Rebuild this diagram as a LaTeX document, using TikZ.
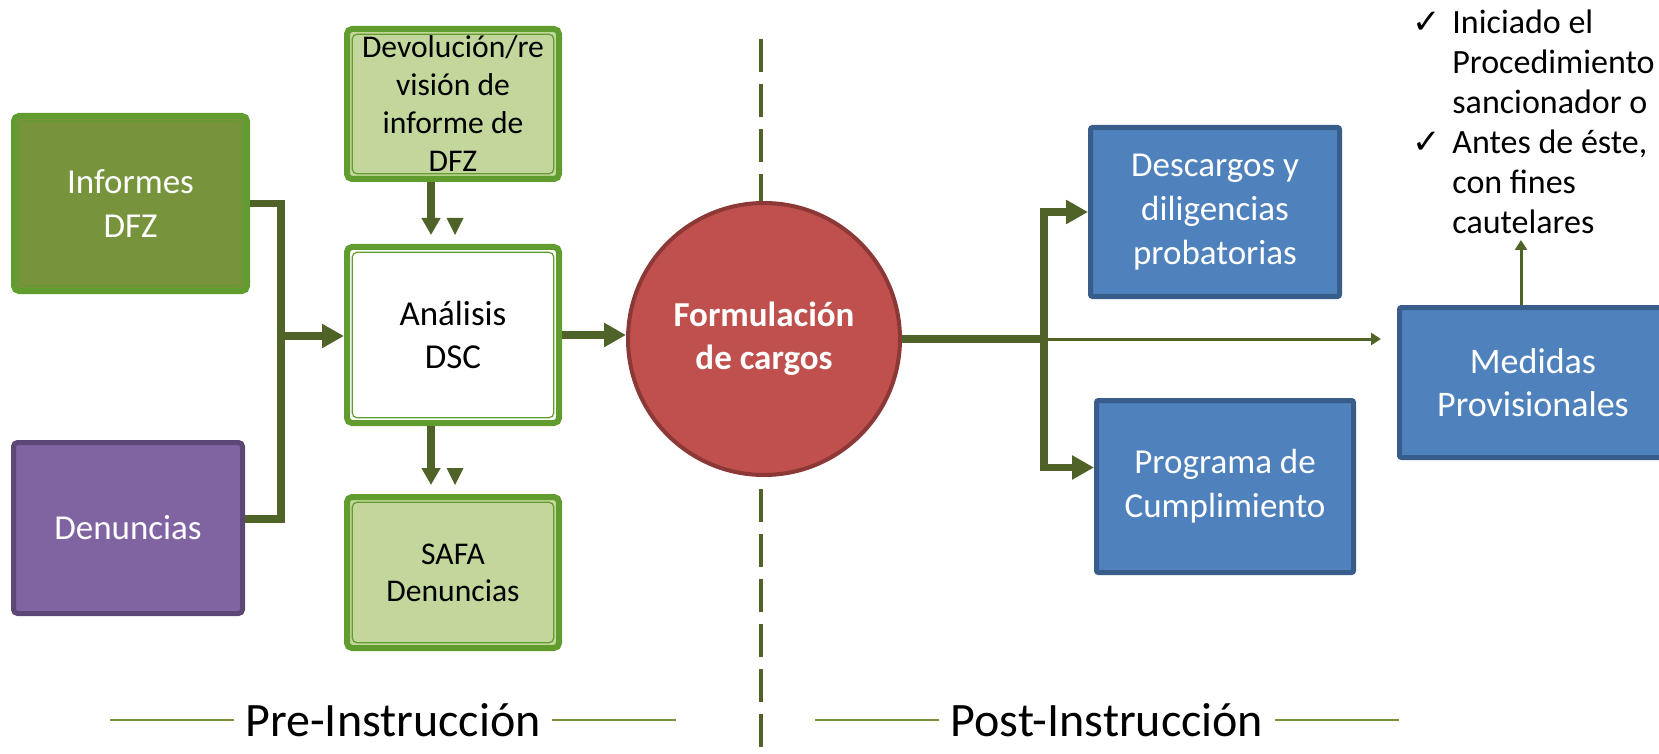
\documentclass[tikz,border=0pt]{standalone}
\usepackage{fontspec}
\setmainfont{Carlito}
\newfontfamily\symbolfont{DejaVu Sans}
\usepackage{tikz}
\usetikzlibrary{calc, positioning, arrows.meta}

\definecolor{leafgreen}{RGB}{96,156,46}
\definecolor{olivefill}{RGB}{119,147,60}
\definecolor{sagefill}{RGB}{195,214,155}
\definecolor{flowgreen}{RGB}{79,98,40}
\definecolor{plumfill}{RGB}{128,100,162}
\definecolor{plumline}{RGB}{92,71,118}
\definecolor{steelfill}{RGB}{79,129,189}
\definecolor{steelline}{RGB}{56,93,138}
\definecolor{brickfill}{RGB}{192,80,77}
\definecolor{brickline}{RGB}{140,56,54}
\definecolor{rulegreen}{RGB}{119,147,60}

\newcommand{\tickmark}{{\symbolfont\fontsize{17}{12}\selectfont ✓}}

\begin{document}
\begin{tikzpicture}[
    x=0.5pt, y=-0.5pt,
    font=\fontsize{17.5}{22}\selectfont,
    greenbox/.style={draw=leafgreen, line width=3pt, rounded corners=2.5pt, align=center, inner sep=0pt,
        minimum width=106pt,
        path picture={\draw[leafgreen, line width=0.6pt]
            ([shift={(2.6pt,-2.6pt)}]path picture bounding box.north west) rectangle
            ([shift={(-2.6pt,2.6pt)}]path picture bounding box.south east);}},
    plumbox/.style={draw=plumline, line width=2.5pt, fill=plumfill, text=white, rounded corners=2pt, align=center},
    bluebox/.style={draw=steelline, line width=2.5pt, fill=steelfill, text=white, rounded corners=1pt, align=center},
    flowline/.style={draw=flowgreen, line width=3.6pt},
    flow/.style={flowline, -{Triangle[length=11pt, width=11.5pt]}},
    dropflow/.style={flowline, -{Triangle[length=8.5pt, width=9pt]}},
    thinflow/.style={draw=flowgreen, line width=1.5pt, -{Triangle[length=5pt, width=6pt]}},
    divider/.style={draw=flowgreen, line width=2pt, dash pattern=on 16.5pt off 6pt},
    rule/.style={draw=rulegreen, line width=1pt},
    phase/.style={font=\fontsize{24}{28}\selectfont, inner sep=5.5pt},
]
    \useasboundingbox (0,0) rectangle (1659,754);
    \clip (0,0) rectangle (1659,754);

    % Divider
    \draw[divider] (761,39) -- (761,754);

    % Sources
    \node[greenbox, fill=olivefill, text=white, minimum width=116.5pt, minimum height=87.5pt] (inf) at (130.5,203.5) {Informes\\DFZ};
    \node[plumbox, minimum width=114.5pt, minimum height=85.5pt] (den) at (128,528) {Denuncias};

    % DSC
    \node[greenbox, fill=white, minimum height=88pt, font=\fontsize{17.5}{21.5}\selectfont] (ana) at (453,335) {Análisis\\DSC};
    \node[greenbox, fill=sagefill, minimum height=75pt, above=31pt of ana, font=\fontsize{15.8}{19}\selectfont] (dev) {Devolución/re\\visión de\\informe de\\DFZ};
    \node[greenbox, fill=sagefill, minimum height=75.5pt, below=34pt of ana, font=\fontsize{15.8}{18.5}\selectfont] (safa) {SAFA\\Denuncias};

    \node[circle, draw=brickline, line width=2pt, fill=brickfill, minimum size=136pt, inner sep=0pt, text=white, align=center,
        font=\bfseries\fontsize{17.5}{21.5}\selectfont] (form) at (764,339) {Formulación\\de cargos};

    % Outcomes
    \node[bluebox, minimum width=124.5pt, minimum height=84.5pt] (desc) at (1215,212) {Descargos y\\diligencias\\probatorias};
    \node[bluebox, minimum width=128.5pt, minimum height=86pt] (prog) at (1225,486.5) {Programa de\\Cumplimiento};
    \node[bluebox, minimum width=133.5pt, minimum height=75pt, font=\fontsize{18}{21.5}\selectfont] (med) at (1533,382.5) {Medidas\\Provisionales};

    \node[anchor=base west, inner sep=0pt, font=\fontsize{17}{20}\selectfont] (notes) at (1412,34) {%
        \begin{tabular}[t]{@{}p{20pt}@{}l@{}}
        \tickmark & Iniciado el\\
                  & Procedimiento\\
                  & sancionador o\\
        \tickmark & Antes de éste,\\
                  & con fines\\
                  & cautelares
        \end{tabular}};

    % Inputs
    \coordinate (bus) at (281,336);
    \draw[flowline] (inf.east) -| (bus);
    \draw[flowline] ([yshift=4.5pt]den.east) -| (bus);
    \draw[flow] (bus) -- (bus -| ana.west);

    \foreach \src/\dst in {dev/ana, ana/safa} {
        \draw[dropflow] ([xshift=-11pt]\src.south) -- ([xshift=-11pt, yshift=4.5pt]\dst.north);
        \fill[flowgreen] ([xshift=1pt, yshift=4.5pt]\dst.north) -- ++(-8.5,-17) -- ++(17,0) -- cycle;
    }

    \draw[flow] (ana.east) -- (ana.east -| form.west);

    % Outputs
    \coordinate (fork) at ($(form.east)+(142,0)$);
    \draw[flowline] (form.east) -- (fork);
    \draw[flow] (fork) |- (desc.west);
    \draw[flow] (fork) |- ([yshift=9.5pt]prog.west);
    \draw[thinflow] (fork) -- ([xshift=-8pt, yshift=21.75pt]med.west);

    \coordinate (cautelar) at (1521,240);
    \draw[thinflow] (med.north -| cautelar) -- (cautelar);

    % Phases
    \foreach \name/\txt/\x in {pre/Pre-Instrucción/393, post/Post-Instrucción/1107} {
        \node[phase] (\name) at (\x,720) {\txt};
        \draw[rule] (\name.west) -- ++(-124,0);
        \draw[rule] (\name.east) -- ++(124,0);
    }

\end{tikzpicture}
\end{document}
